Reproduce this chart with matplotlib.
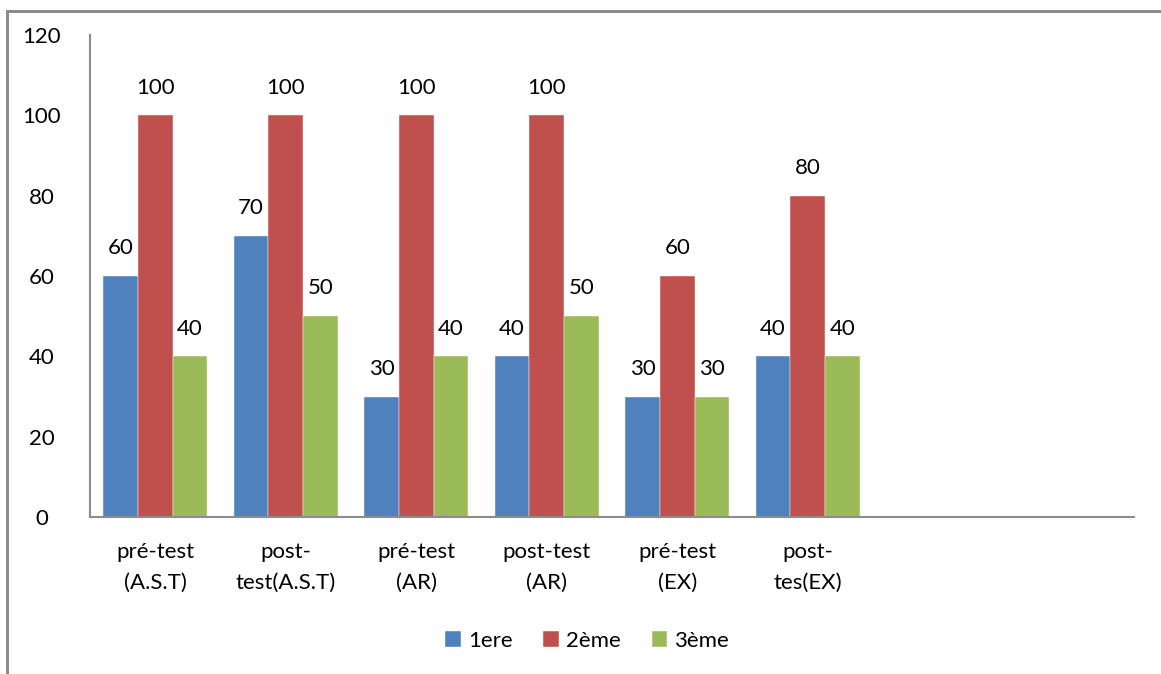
import numpy as np
import matplotlib.pyplot as plt
from matplotlib.patches import Rectangle

categories = ['pré-test\n(A.S.T)', 'post-\ntest(A.S.T)', 'pré-test\n(AR)',
              'post-test\n(AR)', 'pré-test\n(EX)', 'post-\ntes(EX)', '', '']
series_names = ['1ere', '2ème', '3ème']
v1 = [60, 70, 30, 40, 30, 40]
v2 = [100, 100, 100, 100, 60, 80]
v3 = [40, 50, 40, 50, 30, 40]
yticks = [0, 20, 40, 60, 80, 100, 120]

colours = ['#4F81BD', '#C0504D', '#9BBB59']

plt.rcParams['font.family'] = ['Lato', 'DejaVu Sans']
fs = 16

W, H = 1161, 674
fig = plt.figure(figsize=(W / 100, H / 100), dpi=100)
# outer chart frame: thin filled strips for the top and left edges
fig.add_artist(Rectangle((6 / W, 1 - 12.5 / H), 1.0, 2.5 / H, transform=fig.transFigure,
                         facecolor='#8c8c8c', edgecolor='none', zorder=10))
fig.add_artist(Rectangle((6 / W, 0.0), 2.5 / W, 1 - 10 / H, transform=fig.transFigure,
                         facecolor='#8c8c8c', edgecolor='none', zorder=10))

ax = fig.add_axes([90 / W, 157 / H, 1044 / W, 482 / H])

n = len(categories)
x = np.arange(n)
w = 0.8 / 3
for i, (vals, name) in enumerate(zip([v1, v2, v3], series_names)):
    xs = x[:len(vals)] + (i - 1) * w
    bars = ax.bar(xs, vals, width=w, color=colours[i], label=name,
                  edgecolor='white', linewidth=0.3)
    for b, v in zip(bars, vals):
        ax.annotate(str(v), (b.get_x() + b.get_width() / 2, v),
                    xytext=(0, 20), textcoords='offset points',
                    ha='center', va='center', fontsize=fs)

ax.set_xlim(-0.5, n - 0.5)
ax.set_ylim(0, 120)
ax.set_yticks(yticks)
ax.set_xticks(x)
ax.set_xticklabels(categories, fontsize=fs, linespacing=1.65)
ax.tick_params(axis='y', length=0, labelsize=fs, pad=35)
ax.tick_params(axis='x', length=0, pad=18)
for lab in ax.get_yticklabels():
    lab.set_horizontalalignment('center')
for s in ['top', 'right']:
    ax.spines[s].set_visible(False)
for s in ['left', 'bottom']:
    ax.spines[s].set_color('#8c8c8c')
    ax.spines[s].set_linewidth(1.5)

ax.legend(loc='center', bbox_to_anchor=(587 / W, 33 / H),
          bbox_transform=fig.transFigure, ncol=3, frameon=False,
          fontsize=fs, handlelength=0.7, handleheight=0.7,
          handletextpad=0.3, columnspacing=1.4)

fig.savefig('out.png', dpi=100)
